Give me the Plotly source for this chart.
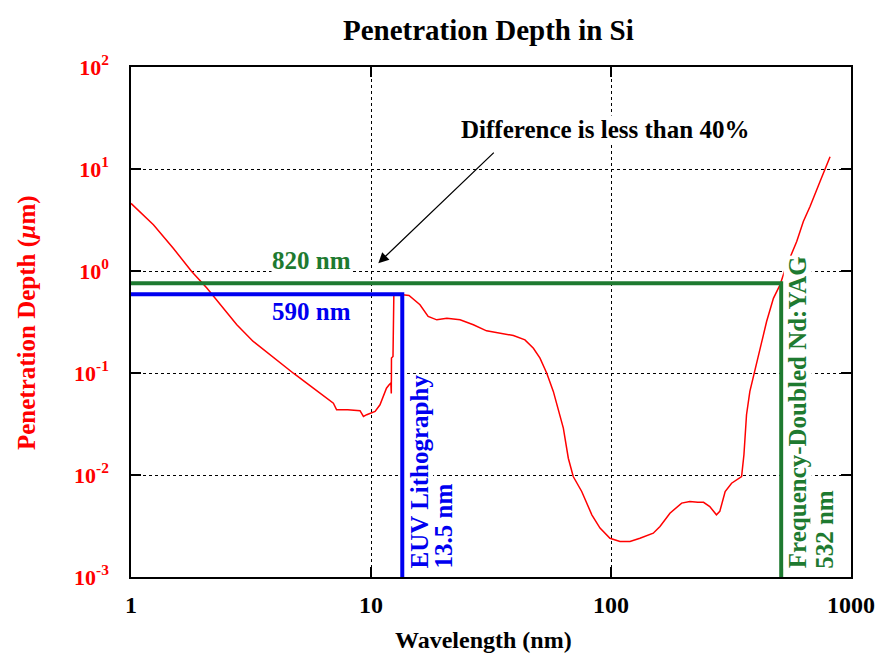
import plotly.graph_objects as go
import math

# ---- data ----
wavelength_nm = [1.0, 1.24, 1.50, 1.79, 2.07, 2.35, 2.76, 3.23, 3.79, 4.75, 5.75, 6.97, 7.19,
                 8.0, 9.0, 9.3, 9.6, 10.4, 10.9, 11.6, 11.9, 12.1, 12.15, 12.17, 12.35, 12.45,
                 13.0, 13.6, 14.4, 16.0, 17.3, 18.8, 20.7, 23.5, 26.7, 30.3, 34.5, 39.2, 43.8,
                 47.5, 50.6, 54.0, 57.5, 63.3, 66.4, 69.6, 75.5, 83.2, 90, 99, 109, 120, 132,
                 150, 160, 176, 197, 213, 230, 243, 258, 275, 284, 299, 318, 350, 358, 367,
                 379, 394, 418, 445, 475, 506, 531, 594, 633, 675, 743, 818]
depth_um = [4.6, 2.84, 1.67, 0.99, 0.68, 0.47, 0.297, 0.204, 0.151, 0.0995, 0.071, 0.0506, 0.0436,
            0.0436, 0.0427, 0.0375, 0.039, 0.042, 0.0488, 0.071, 0.0766, 0.08, 0.063, 0.14, 0.145, 0.58,
            0.59, 0.585, 0.575, 0.467, 0.358, 0.332, 0.345, 0.332, 0.297, 0.259, 0.246, 0.233, 0.211,
            0.175, 0.14, 0.0995, 0.066, 0.0288, 0.0146, 0.00966, 0.00689, 0.00407, 0.00302, 0.0024,
            0.00223, 0.00223, 0.0024, 0.00269, 0.00313, 0.00422, 0.0053, 0.0055, 0.0054, 0.0054,
            0.0049, 0.00407, 0.0044, 0.00689, 0.0083, 0.00966, 0.0158, 0.039, 0.066, 0.096, 0.175,
            0.32, 0.54, 0.73, 1.03, 1.95, 3.06, 4.29, 7.54, 13.2]

euv_wavelength = 13.5
euv_depth = 0.59
yag_wavelength = 512
yag_depth = 0.76
x_min, x_max = 1, 1000
y_min, y_max = 1e-3, 1e2

x_tickvals = [1, 10, 100, 1000]
x_ticktext = ["1", "10", "100", "1000"]
y_tickvals = [1e-3, 1e-2, 1e-1, 1e0, 1e1, 1e2]
y_ticktext = ["10<sup>-3</sup>", "10<sup>-2</sup>", "10<sup>-1</sup>",
              "10<sup>0</sup>", "10<sup>1</sup>", "10<sup>2</sup>"]

RED = "#FF0000"
BLUE = "#0000F0"
GREEN = "#1E7A30"
FONT = "Liberation Serif"

fig = go.Figure()
fig.add_trace(go.Scatter(x=wavelength_nm, y=depth_um, mode="lines",
                         line=dict(color=RED, width=1.5), showlegend=False))
fig.add_trace(go.Scatter(x=[x_min, euv_wavelength, euv_wavelength], y=[euv_depth, euv_depth, y_min],
                         mode="lines", line=dict(color=BLUE, width=4), showlegend=False))
fig.add_trace(go.Scatter(x=[x_min, yag_wavelength, yag_wavelength], y=[yag_depth, yag_depth, y_min],
                         mode="lines", line=dict(color=GREEN, width=4), showlegend=False))

def ann(text, x, y, color, size=25, angle=0, xanchor="center", yanchor="middle", bg="white"):
    fig.add_annotation(text="<b>%s</b>" % text, x=x, y=y, xref="x", yref="y",
                       showarrow=False, textangle=angle, xanchor=xanchor, yanchor=yanchor,
                       font=dict(family=FONT, size=size, color=color), bgcolor=bg, borderpad=0)

ann("820 nm", 0.753, 0.103, GREEN)
ann("590 nm", 0.753, -0.396, BLUE)
ann("EUV Lithography", 1.20, -2.926, BLUE, angle=-90, yanchor="bottom")
ann("13.5 nm", 1.306, -2.926, BLUE, angle=-90, yanchor="bottom")
ann("Frequency-Doubled Nd:YAG", 2.778, -2.926, GREEN, angle=-90, yanchor="bottom")
ann("532 nm", 2.891, -2.926, GREEN, angle=-90, yanchor="bottom")
ann("Difference is less than 40%", 1.975, 1.392, "black")

# arrow
fig.add_annotation(text="", x=1.0304, y=0.0765, xref="x", yref="y", ax=117, ay=-112,
                   showarrow=True, arrowhead=2, arrowsize=1.6, arrowwidth=1.3, arrowcolor="black")

# titles
fig.add_annotation(text="<b>Penetration Depth in Si</b>", x=0.497, y=1.0725, xref="paper", yref="paper",
                   xanchor="center", yanchor="middle",
                   showarrow=False, font=dict(family=FONT, size=29, color="black"))
fig.add_annotation(text="<b>Wavelength (nm)</b>", x=0.490, y=-0.1227, xref="paper", yref="paper",
                   xanchor="center", yanchor="middle",
                   showarrow=False, font=dict(family=FONT, size=24, color="black"))
fig.add_annotation(text="<b>Penetration Depth (<i>µ</i>m)</b>", x=-0.1444, y=0.498, xref="paper", yref="paper",
                   xanchor="center", yanchor="middle",
                   showarrow=False, textangle=-90, font=dict(family=FONT, size=25, color=RED))

fig.update_xaxes(type="log", range=[math.log10(x_min), math.log10(x_max)], automargin=False,
                 tickvals=x_tickvals, ticktext=x_ticktext, ticks="inside", ticklen=10, tickwidth=1.5,
                 tickcolor="black", showline=True, linecolor="black", linewidth=1.5, mirror="ticks",
                 showgrid=True, gridcolor="black", griddash="dot", gridwidth=1, zeroline=False,
                 tickfont=dict(family=FONT, size=24, color="black", weight="bold"), ticklabelstandoff=5)
fig.update_yaxes(type="log", range=[math.log10(y_min), math.log10(y_max)], automargin=False,
                 tickvals=y_tickvals, ticktext=y_ticktext, ticks="inside", ticklen=10, tickwidth=1.5,
                 tickcolor="black", showline=True, linecolor="black", linewidth=1.5, mirror="ticks",
                 showgrid=True, gridcolor="black", griddash="dot", gridwidth=1, zeroline=False,
                 tickfont=dict(family=FONT, size=22, color=RED, weight="bold"), ticklabelstandoff=16)

fig.update_layout(width=875, height=657, margin=dict(l=131, r=24, t=67, b=80),
                  plot_bgcolor="white", paper_bgcolor="white", showlegend=False)

# remove the default page margin so the figure fills the window exactly
fig.write_html("out.html", config={"displayModeBar": False},
               post_script="document.body.style.margin='0px';document.body.style.overflow='hidden';")
